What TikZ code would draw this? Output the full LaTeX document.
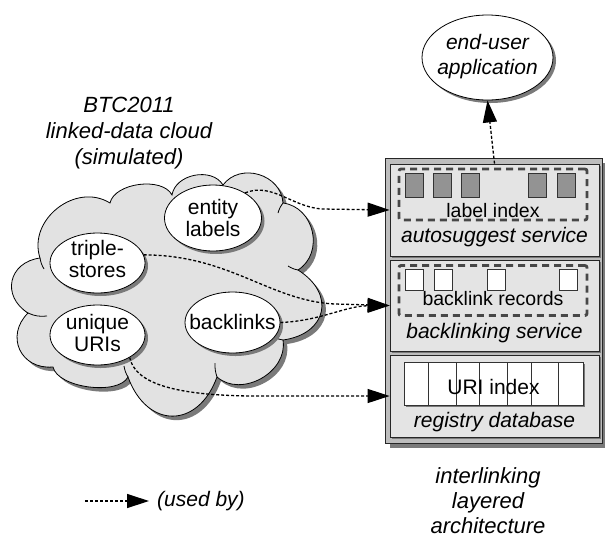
\documentclass[tikz,border=0pt]{standalone}
\usepackage{fontspec}
\setmainfont{Liberation Sans}
\usetikzlibrary{shadows,arrows.meta,shapes.geometric}
\definecolor{cloudfill}{HTML}{E2E2E2}
\definecolor{panelfill}{HTML}{E4E4E4}
\definecolor{outerfill}{HTML}{BDBDBD}
\definecolor{sqgray}{HTML}{939393}
\definecolor{shadowgray}{HTML}{7A7A7A}
\definecolor{dashgray}{HTML}{474747}
\begin{document}
\begin{tikzpicture}[x=1pt,y=-1pt,
  shad/.style={drop shadow={shadow xshift=#1,shadow yshift=-#1,opacity=1,fill=shadowgray}},
  shad/.default=3pt,
  bubble/.style={ellipse, draw=black, line width=0.8pt, fill=white, inner sep=0pt, shad},
  txt/.style={inner sep=0pt, align=center, font=\fontsize{21}{22}\selectfont},
  itxt/.style={inner sep=0pt, align=center, font=\fontsize{21}{22}\selectfont\itshape},
  smtxt/.style={inner sep=0pt, align=center, font=\fontsize{19.5}{22}\selectfont},
  bigtxt/.style={inner sep=0pt, align=center, font=\fontsize{22}{26}\selectfont\itshape},
  outerbox/.style={rectangle, draw=black!85, line width=0.8pt, fill=outerfill, inner sep=0pt, shad=5pt},
  panel/.style={rectangle, draw=black!85, line width=0.8pt, fill=panelfill, inner sep=0pt, shad=2pt},
  dbox/.style={rectangle, draw=dashgray, line width=2.8pt, dash pattern=on 7pt off 5pt, rounded corners=2pt, inner sep=0pt},
  gsq/.style={rectangle, draw=black!80, line width=0.7pt, fill=sqgray, inner sep=0pt, minimum width=18pt, minimum height=24pt},
  wsq/.style={rectangle, draw=black!80, line width=0.7pt, fill=white, inner sep=0pt, minimum width=18pt, minimum height=21pt},
  cell/.style={draw=black!80, line width=0.7pt, fill=white, shad=2pt},
  uses/.style={line width=1.3pt, dash pattern=on 3pt off 2pt, -{Triangle[length=22pt,width=14pt]}},
  bump/.style={bend left=70, looseness=#1},
  hook/.style={line width=0.8pt},
]
\useasboundingbox (0,0) rectangle (605,539);

% ---------- cloud ----------
\path[draw=black, line width=0.8pt, fill=cloudfill,
      drop shadow={shadow xshift=4pt,shadow yshift=-4pt,opacity=1,fill=shadowgray}]
  (40,258) to[bump=1.16] (110,203)
  to[bump=0.85] (172,195)
  to[bump=1.05] (223,185)
  to[bump=1.18] (283,203)
  to[bump=1.18] (298,270)
  to[bump=1.6] (283,340)
  to[bump=1.1] (217,377)
  to[bump=1.6] (128,377)
  to[bump=0.72] (53,367)
  to[bump=1.4] (28,313)
  to[bump=1.45] (40,258) -- cycle;
\draw[hook] (40,258) to[bend right=10] (44,269);
\draw[hook] (28,313) to[bend right=15] (47,316);
\draw[hook] (128,377) to[bend left=10] (124,366);
\draw[hook] (217,377) to[bend left=10] (215,363);
\draw[hook] (283,340) to[bend left=10] (272,336);
\draw[hook] (298,270) to[bend left=10] (288,266);
\draw[hook] (283,203) to[bend right=10] (278,213);

% ---------- title ----------
\node[bigtxt, anchor=north] (title) at (129,97) {BTC2011\\linked-data cloud\\(simulated)};

% ---------- bubbles ----------
\node[bubble, minimum width=97pt, minimum height=66pt] (el) at (213,218) {};
\node[txt] (eltxt) at (213,218) {entity\\labels};
\node[bubble, minimum width=95pt, minimum height=60pt] (ts) at (97.5,263) {};
\node[txt] (tstxt) at (97.5,259) {triple-\\stores};
\node[bubble, minimum width=95pt, minimum height=60pt] (uu) at (97.5,335) {};
\node[txt] (uutxt) at (97.5,333) {unique\\URIs};
\node[bubble, minimum width=95pt, minimum height=61pt] (bl) at (232.5,322.5) {};
\node[txt] (bltxt) at (232.5,322) {backlinks};

% ---------- end-user application ----------
\node[bubble, minimum width=131pt, minimum height=85pt] (app) at (487.5,57.5) {};
\node[itxt, font=\fontsize{21}{25}\selectfont\itshape] (apptxt) at (487.5,57) {end-user\\application};

% ---------- architecture ----------
\node[outerbox, minimum width=217pt, minimum height=285pt] (arch) at (493.5,300.5) {};
\node[panel, minimum width=209pt, minimum height=92pt] (auto) at (494.5,210) {};
\node[panel, minimum width=209pt, minimum height=91pt] (back) at (494.5,305.5) {};
\node[panel, minimum width=209pt, minimum height=82pt] (reg) at (494.5,396) {};

% label index
\node[dbox, minimum width=188pt, minimum height=51pt] (lix) at (493,194.5) {};
\foreach \x [count=\i] in {414,442.5,470.5,537.5,566}
  \node[gsq] (g\i) at (\x,185) {};
\node[smtxt, anchor=base] (lixtxt) at (493,217) {label index};
\node[itxt, anchor=base] (autotxt) at (494.5,242) {autosuggest service};

% backlink records
\node[dbox, minimum width=188pt, minimum height=50pt] (blr) at (493,290.5) {};
\foreach \x [count=\i] in {414.5,443,496.5,568}
  \node[wsq] (w\i) at (\x,279.5) {};
\node[smtxt, anchor=base] (blrtxt) at (493,305) {backlink records};
\node[itxt, anchor=base] (backtxt) at (494.5,338) {backlinking service};

% URI index
\foreach \a/\b in {404/428,428/456,456/479,479/507,507/531,531/558,558/583}
  \draw[cell] (\a,362) rectangle (\b,405);
\node[txt, anchor=base] (uritxt) at (493.5,394) {URI index};
\node[itxt, anchor=base] (regtxt) at (494.5,427) {registry database};

\node[bigtxt, font=\fontsize{22}{25}\selectfont\itshape, anchor=north] (archtxt) at (488,467.5) {interlinking\\layered\\architecture};

% ---------- connectors ----------
\draw[uses] (el.38) .. controls (272,182) and (292,207) .. (322,209) -- (auto.west);
\draw[uses] (ts.10) .. controls (230,255) and (270,301) .. (335,304) -- (back.west);
\draw[uses] (bl.east) .. controls (320,321) and (345,306) .. (back.west);
\draw[uses] (uu.-35) .. controls (135,382) and (170,395) .. (250,396) -- (reg.west);
\draw[uses] (auto.north) -- (app.south);

% ---------- legend ----------
\coordinate (lgs) at (85,501);
\node[itxt, anchor=west] (lg) at (157,501) {(used by)};
\draw[uses, shorten >=8pt] (lgs) -- (lg.west);
\end{tikzpicture}
\end{document}
